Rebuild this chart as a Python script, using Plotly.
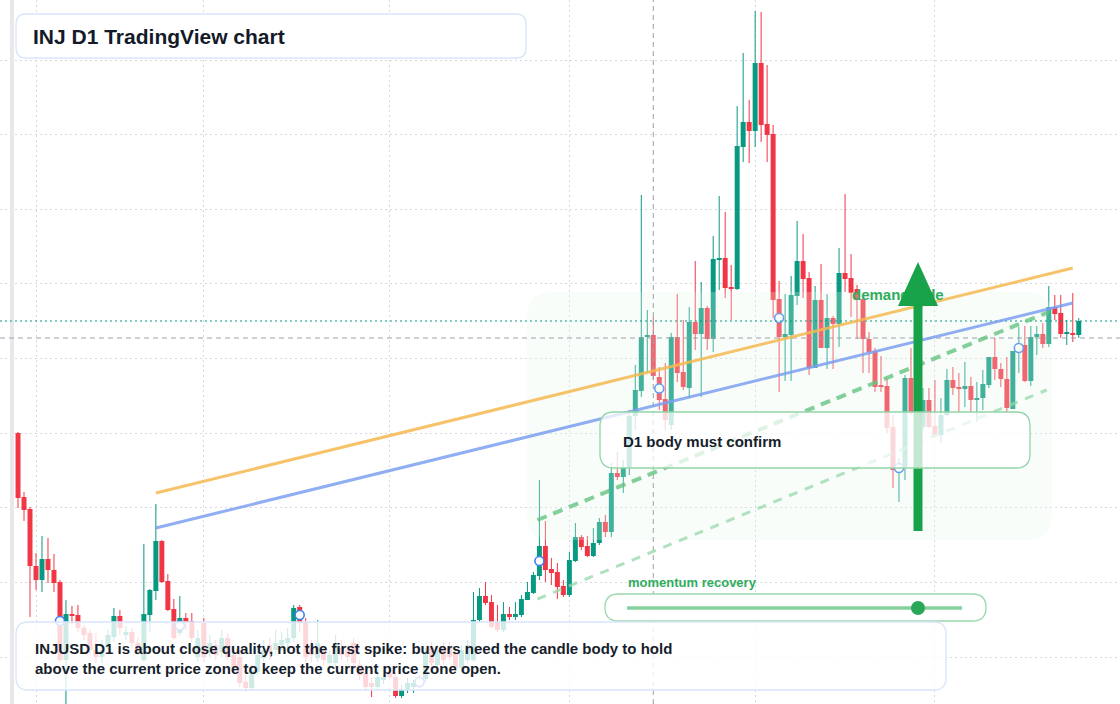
import plotly.graph_objects as go
import pandas as pd

# ---------------- data (INJUSD daily candles) ----------------
START_DATE = "2023-01-29"
OPEN = [36.7, 30.3, 29.1, 23.4, 22.0, 24.1, 23.0, 21.8, 14.0, 18.6,
        18.5, 17.2, 16.7, 15.0, 14.3, 15.3, 16.3, 18.4, 16.5, 16.8,
        15.7, 14.0, 18.5, 20.9, 25.9, 21.9, 19.1, 16.7, 18.2, 17.9,
        14.3, 17.7, 14.8, 15.5, 14.8, 16.2, 14.5, 14.3, 11.8, 11.2,
        12.8, 14.2, 15.5, 15.0, 15.5, 15.7, 16.2, 19.3, 17.8, 15.2,
        14.2, 15.0, 13.7, 13.7, 15.2, 15.0, 15.7, 13.5, 12.7, 11.7,
        11.3, 12.0, 12.7, 12.3, 10.4, 11.0, 11.3, 12.0, 12.1, 15.3,
        13.5, 15.2, 15.2, 14.7, 13.2, 14.0, 14.0, 18.0, 20.4, 19.8,
        17.8, 17.0, 18.6, 18.3, 18.5, 20.0, 20.7, 22.4, 25.4, 23.1,
        22.8, 21.4, 20.5, 23.9, 26.3, 25.4, 24.4, 25.7, 27.8, 26.8,
        32.7, 32.3, 33.3, 38.4, 40.9, 46.3, 46.5, 42.3, 40.1, 37.5,
        46.3, 42.8, 41.2, 47.8, 46.6, 49.2, 46.1, 54.0, 54.2, 51.2,
        51.1, 65.3, 67.8, 66.9, 73.7, 67.6, 66.6, 50.1, 46.3, 46.5,
        50.4, 53.9, 52.2, 43.2, 50.0, 45.2, 48.2, 47.6, 52.7, 52.2,
        51.1, 50.1, 46.1, 44.9, 41.4, 41.4, 37.3, 33.1, 33.3, 42.2,
        38.7, 37.3, 40.0, 37.4, 36.5, 38.5, 42.0, 41.2, 41.1, 41.4,
        40.0, 40.2, 41.5, 44.3, 43.1, 42.1, 39.1, 45.1, 45.5, 41.9,
        46.3, 46.6, 45.6, 49.3, 48.7, 46.6, 46.7, 46.5]
HIGH = [36.8, 30.8, 29.3, 24.7, 26.4, 26.2, 24.6, 22.0, 20.0, 19.4,
        19.5, 17.5, 17.0, 16.7, 16.0, 17.0, 19.2, 19.0, 17.4, 17.2,
        16.2, 25.6, 21.1, 29.6, 26.0, 22.6, 20.1, 20.4, 18.7, 18.7,
        17.0, 18.2, 16.5, 16.0, 17.0, 16.7, 15.5, 15.0, 12.5, 13.5,
        15.5, 16.0, 16.2, 17.0, 16.8, 17.2, 19.5, 19.5, 18.2, 16.0,
        18.0, 15.5, 15.0, 16.5, 16.0, 15.5, 16.2, 14.0, 13.5, 12.2,
        13.0, 13.0, 13.2, 12.8, 11.5, 12.2, 12.0, 12.5, 15.2, 15.8,
        15.5, 15.8, 15.8, 15.2, 15.5, 16.0, 20.8, 21.2, 21.8, 20.5,
        19.5, 19.8, 19.3, 19.8, 20.5, 21.8, 22.8, 32.0, 27.9, 24.2,
        23.7, 22.0, 24.8, 27.7, 26.5, 26.4, 27.2, 28.2, 28.5, 33.7,
        34.8, 34.0, 39.0, 43.5, 60.5, 49.0, 48.3, 43.3, 43.7, 46.7,
        50.6, 48.0, 49.3, 53.9, 51.8, 49.4, 56.4, 60.4, 58.8, 53.5,
        69.4, 74.7, 70.0, 78.9, 78.8, 73.5, 67.5, 51.9, 50.6, 52.4,
        57.9, 56.6, 52.8, 51.4, 53.6, 50.6, 48.4, 55.2, 60.6, 54.6,
        51.5, 50.3, 46.8, 45.2, 44.4, 42.2, 38.5, 34.2, 42.5, 45.2,
        41.5, 41.2, 41.2, 42.0, 40.2, 43.1, 43.3, 42.7, 43.8, 42.3,
        41.8, 43.0, 44.3, 46.2, 43.7, 44.3, 44.9, 47.3, 47.4, 47.4,
        47.4, 47.7, 51.4, 50.5, 50.5, 48.0, 50.7, 48.2]
LOW = [29.2, 27.9, 18.3, 21.0, 20.8, 21.7, 20.8, 13.8, 9.4, 17.5,
       16.8, 16.0, 14.5, 13.7, 13.7, 15.0, 15.8, 16.5, 16.0, 15.2,
       14.5, 13.8, 16.8, 20.0, 21.7, 18.9, 16.0, 16.4, 17.0, 15.8,
       13.8, 13.8, 14.3, 14.0, 14.3, 14.0, 12.8, 11.3, 10.9, 11.0,
       12.5, 13.8, 14.0, 14.5, 15.0, 15.2, 15.8, 16.8, 13.8, 13.8,
       13.8, 13.5, 13.2, 13.2, 14.0, 13.8, 13.2, 12.0, 11.0, 10.3,
       11.0, 11.6, 12.0, 10.2, 10.2, 10.7, 10.7, 11.2, 11.8, 13.3,
       12.8, 13.5, 14.0, 12.8, 12.8, 13.7, 13.8, 17.8, 19.5, 17.2,
       16.8, 16.8, 18.0, 18.0, 18.3, 20.0, 20.6, 22.0, 21.8, 21.5,
       20.1, 20.3, 20.3, 23.8, 25.0, 24.3, 24.3, 25.5, 26.3, 26.3,
       32.0, 30.7, 32.5, 37.0, 40.3, 42.8, 42.0, 39.0, 37.0, 37.0,
       41.8, 41.0, 40.2, 45.0, 40.3, 45.0, 44.8, 51.0, 50.2, 48.0,
       51.0, 63.8, 63.7, 65.3, 65.8, 63.8, 48.2, 40.8, 41.9, 41.9,
       49.5, 50.2, 42.5, 43.2, 45.2, 43.1, 43.1, 45.3, 50.8, 48.3,
       46.1, 42.7, 42.7, 40.8, 40.8, 36.7, 31.2, 29.8, 32.0, 38.5,
       38.0, 37.0, 37.2, 36.3, 35.7, 38.4, 40.5, 38.8, 39.3, 38.8,
       37.8, 39.0, 41.2, 42.0, 41.3, 38.7, 39.1, 42.7, 41.8, 41.4,
       44.5, 45.2, 45.3, 48.0, 46.2, 45.5, 45.8, 46.2]
CLOSE = [30.2, 29.0, 23.4, 22.0, 24.1, 23.0, 21.7, 14.0, 18.6, 18.4,
         17.2, 16.5, 15.0, 14.3, 15.0, 16.5, 18.4, 17.2, 16.8, 15.7,
         15.0, 18.6, 21.0, 25.9, 21.8, 19.0, 16.2, 18.2, 17.8, 16.2,
         16.2, 14.3, 15.7, 14.5, 16.2, 14.3, 13.2, 11.7, 11.2, 13.0,
         14.5, 15.0, 14.8, 15.7, 16.0, 16.2, 19.2, 17.7, 14.3, 14.5,
         15.7, 14.0, 14.5, 15.7, 14.5, 14.3, 13.7, 12.5, 11.3, 11.3,
         12.3, 12.3, 12.3, 10.4, 11.0, 11.7, 11.7, 11.6, 14.7, 13.7,
         15.0, 14.0, 14.3, 13.2, 15.0, 15.5, 18.0, 20.4, 19.7, 17.3,
         17.0, 18.6, 18.3, 18.6, 20.1, 20.8, 22.5, 25.4, 23.0, 22.7,
         21.3, 20.5, 24.0, 26.3, 25.3, 24.4, 25.7, 27.8, 26.8, 32.7,
         32.3, 33.3, 38.4, 41.0, 46.3, 46.5, 42.4, 40.0, 38.0, 46.3,
         42.7, 41.3, 47.8, 46.6, 49.2, 46.1, 54.1, 54.1, 51.2, 51.1,
         65.4, 67.8, 66.9, 73.7, 67.5, 66.5, 50.0, 46.3, 46.6, 50.5,
         53.9, 52.1, 43.2, 50.0, 45.2, 48.2, 47.6, 52.7, 52.1, 50.7,
         50.0, 46.1, 44.8, 41.3, 41.3, 37.2, 33.0, 33.3, 42.2, 38.7,
         40.0, 40.0, 37.3, 36.5, 38.5, 42.0, 41.2, 41.1, 41.4, 40.0,
         40.2, 41.6, 44.3, 43.1, 42.1, 39.2, 44.9, 45.3, 41.9, 46.3,
         46.6, 45.6, 49.3, 48.6, 46.6, 46.7, 46.5, 47.9]

# candles carrying a blue signal ring (index into the series)
SIGNAL_INDEX = [7, 27, 47, 67, 87, 107, 127, 147, 167]

# trend lines: (start date, start price, end date, end price)
ORANGE_LINE = ("2023-02-21", 30.7, "2023-07-24", 53.2)
BLUE_LINE = ("2023-02-21", 27.2, "2023-07-24", 49.7)
GREEN_DASH = ("2023-04-25 16:00", 28.0, "2023-07-20", 48.8)
GREEN_DASH_LIGHT = ("2023-04-25 16:00", 20.1, "2023-07-19 16:00", 41.0)

CROSSHAIR_DATE = "2023-05-15"
CROSSHAIR_PRICE = 46.2

TITLE = "INJ D1 TradingView chart"
NOTE_LINE1 = "INJUSD D1 is about close quality, not the first spike: buyers need the candle body to hold"
NOTE_LINE2 = "above the current price zone to keep the current price zone open."
CONFIRM_TEXT = "D1 body must confirm"
MOMENTUM_TEXT = "momentum recovery"
ZONE_TEXT = "demand side"

# ---------------- styling ----------------
UP = "#089981"
DOWN = "#F23645"
FONT = "Liberation Sans, Arial, sans-serif"
W, H = 1120, 704

dates = pd.date_range(START_DATE, periods=len(OPEN), freq="D")
up = [c >= o for o, c in zip(OPEN, CLOSE)]
colors = [UP if u else DOWN for u in up]

fig = go.Figure()

# wicks
for col, flag in ((UP, True), (DOWN, False)):
    xs, ys = [], []
    for d, hi, lo, u in zip(dates, HIGH, LOW, up):
        if u == flag:
            xs += [d, d, None]
            ys += [lo, hi, None]
    fig.add_trace(go.Scatter(x=xs, y=ys, mode="lines", line=dict(color=col, width=1),
                             hoverinfo="skip"))

# bodies
fig.add_trace(go.Bar(
    x=dates,
    y=[max(abs(c - o), 0.15) for o, c in zip(OPEN, CLOSE)],
    base=[min(o, c) for o, c in zip(OPEN, CLOSE)],
    width=0.83 * 86400000,
    marker=dict(color=colors, line=dict(width=0)),
    hoverinfo="skip",
))

# signal rings
fig.add_trace(go.Scatter(
    x=[dates[i] for i in SIGNAL_INDEX],
    y=[(OPEN[i] + CLOSE[i]) / 2 for i in SIGNAL_INDEX],
    mode="markers",
    marker=dict(symbol="circle", size=9, color="white", line=dict(color="#3f7ff0", width=1.6)),
    hoverinfo="skip",
))


def P(x, y):
    return f"{x / W:.5f},{1 - y / H:.5f}"


def rrect(x0, y0, x1, y1, r):
    return (f"M{P(x0 + r, y0)} L{P(x1 - r, y0)} Q{P(x1, y0)} {P(x1, y0 + r)} "
            f"L{P(x1, y1 - r)} Q{P(x1, y1)} {P(x1 - r, y1)} L{P(x0 + r, y1)} "
            f"Q{P(x0, y1)} {P(x0, y1 - r)} L{P(x0, y0 + r)} Q{P(x0, y0)} {P(x0 + r, y0)} Z")


def line_shape(seg, color, width, dash="solid"):
    return dict(type="line", xref="x", yref="y", x0=seg[0], y0=seg[1], x1=seg[2], y1=seg[3],
                line=dict(color=color, width=width, dash=dash), layer="above")


shapes = [
    # left rail
    dict(type="rect", xref="paper", yref="paper", x0=10 / W, x1=14 / W, y0=0, y1=1,
         fillcolor="#e8e8ea", line=dict(width=0), layer="above"),
    # demand zone
    dict(type="path", xref="paper", yref="paper", path=rrect(527, 292, 1052, 540, 24),
         fillcolor="rgba(232,248,236,0.26)", line=dict(width=0), layer="above"),
    # crosshair + current price line
    dict(type="line", xref="paper", yref="y", x0=0, x1=1, y0=CROSSHAIR_PRICE, y1=CROSSHAIR_PRICE,
         line=dict(color="#9aa0a8", width=1, dash="5px,4px"), layer="above"),
    dict(type="line", xref="x", yref="paper", x0=CROSSHAIR_DATE, x1=CROSSHAIR_DATE, y0=0, y1=1,
         line=dict(color="#9aa0a8", width=1, dash="5px,4px"), layer="above"),
    dict(type="line", xref="paper", yref="y", x0=0, x1=1, y0=CLOSE[-1], y1=CLOSE[-1],
         line=dict(color=UP, width=1, dash="2px,3px"), layer="above"),
    # trend lines
    line_shape(ORANGE_LINE, "rgba(245,185,80,0.85)", 3),
    line_shape(BLUE_LINE, "rgba(125,160,240,0.85)", 3),
    line_shape(GREEN_DASH, "rgba(100,195,130,0.8)", 4, "10px,7px"),
    line_shape(GREEN_DASH_LIGHT, "rgba(150,215,170,0.75)", 3, "9px,8px"),
    # demand zone label (drawn in shape layer so the arrow sits over it)
    dict(type="rect", xref="paper", yref="paper", x0=846 / W, x1=980 / W, y0=1 - 303 / H, y1=1 - 283 / H,
         fillcolor="rgba(0,0,0,0)", line=dict(width=0), layer="above",
         label=dict(text=f"<b>{ZONE_TEXT}</b>", textposition="middle left", padding=3,
                    font=dict(family=FONT, size=15, color="#2fac5c"))),
    # arrow
    dict(type="line", xref="paper", yref="paper", x0=918 / W, x1=918 / W, y0=1 - 531 / H, y1=1 - 300 / H,
         line=dict(color="#18a34a", width=9), layer="above"),
    dict(type="path", xref="paper", yref="paper",
         path=f"M{P(898, 306)} L{P(938, 306)} L{P(918, 262)} Z",
         fillcolor="#18a34a", line=dict(width=0), layer="above"),
    # confirm box
    dict(type="path", xref="paper", yref="paper", path=rrect(600, 412, 1030, 468, 14),
         fillcolor="rgba(255,255,255,0.74)", line=dict(color="#92d5a8", width=1.3), layer="above"),
    # momentum pill
    dict(type="path", xref="paper", yref="paper", path=rrect(605, 594, 986, 621, 13.5),
         fillcolor="white", line=dict(color="#9ad8ae", width=1.3), layer="above"),
    dict(type="line", xref="paper", yref="paper", x0=627 / W, x1=962 / W, y0=1 - 608 / H, y1=1 - 608 / H,
         line=dict(color="#86d09e", width=3.5), layer="above"),
    dict(type="circle", xref="paper", yref="paper", x0=911 / W, x1=925 / W, y0=1 - 615 / H, y1=1 - 601 / H,
         fillcolor="#2aa85a", line=dict(width=0), layer="above"),
    # note box
    dict(type="path", xref="paper", yref="paper", path=rrect(16, 622, 946, 690, 12),
         fillcolor="rgba(255,255,255,0.8)", line=dict(color="#d8e5fb", width=1.3), layer="above"),
    # title box
    dict(type="path", xref="paper", yref="paper", path=rrect(16, 14, 526, 58, 10),
         fillcolor="white", line=dict(color="#d8e5fb", width=1.3), layer="above"),
]


def ann(text, x, y, size, color):
    return dict(text=f"<b>{text}</b>", xref="paper", yref="paper", x=x / W, y=1 - y / H,
                xanchor="left", yanchor="middle", showarrow=False,
                font=dict(family=FONT, size=size, color=color))


annotations = [
    ann(TITLE, 31, 36, 21, "#131a2a"),
    ann(NOTE_LINE1, 33, 648, 15, "#161d2b"),
    ann(NOTE_LINE2, 33, 668, 15, "#161d2b"),
    ann(CONFIRM_TEXT, 621, 441, 15, "#161d2b"),
    ann(MOMENTUM_TEXT, 626, 582, 13, "#2fac5c"),
]

GRID = "#d5d8dd"
fig.update_layout(
    width=W, height=H, margin=dict(l=0, r=0, t=0, b=0),
    paper_bgcolor="white", plot_bgcolor="white",
    showlegend=False, hovermode=False, barmode="overlay",
    shapes=shapes, annotations=annotations,
    xaxis=dict(type="date", range=["2023-01-25 23:50", "2023-07-31 21:07"],
               showticklabels=False, ticks="", showgrid=True, gridcolor=GRID, griddash="2px,3px",
               gridwidth=1, dtick="M1", tick0="2023-02-01", zeroline=False, showline=False),
    yaxis=dict(range=[9.6, 80], showticklabels=False, ticks="", showgrid=True, gridcolor=GRID,
               griddash="2px,3px", gridwidth=1, tick0=74.0, dtick=7.464, zeroline=False, showline=False),
)

fig.write_html("out.html")
